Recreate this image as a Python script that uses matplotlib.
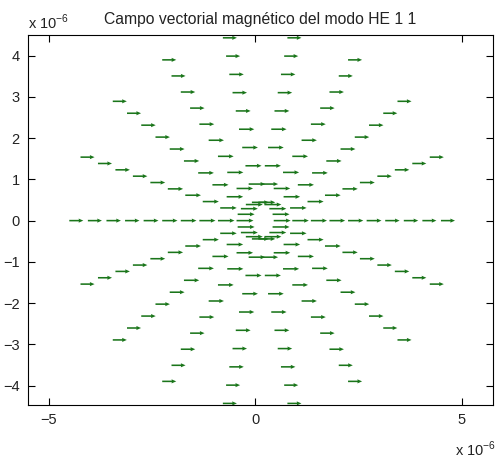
import numpy as np
import matplotlib
matplotlib.use("Agg")
import matplotlib.pyplot as plt

plt.rcParams["font.family"] = ["Liberation Sans", "DejaVu Sans"]
plt.rcParams["mathtext.fontset"] = "custom"
plt.rcParams["mathtext.rm"] = "Liberation Sans"

# Malla polar del campo (radios en micrometros, angulos en grados)
radios = [0.45, 0.90, 1.35, 1.80, 2.25, 2.70, 3.15, 3.60, 4.05, 4.50]
angulos = [0, 20, 40, 60, 80, 100, 120, 140, 160, 180,
           200, 220, 240, 260, 280, 300, 320, 340]
# longitud de la flecha (componente x del campo) para cada radio
magnitud = [0.41, 0.40, 0.39, 0.38, 0.37, 0.36, 0.35, 0.35, 0.34, 0.34]

R, T = np.meshgrid(radios, np.deg2rad(angulos))
X = R * np.cos(T)
Y = R * np.sin(T)
U = np.tile(magnitud, (len(angulos), 1))
V = np.zeros_like(U)

fig = plt.figure(figsize=(4.95, 4.61), dpi=100)
ax = fig.add_axes([28 / 495, 1 - 405 / 461, 465 / 495, 370 / 461])

ax.quiver(X, Y, U, V, angles="xy", scale_units="xy", scale=1,
          color="#1a751a", width=0.0034, headwidth=2.6, headlength=3.0,
          headaxislength=2.8)

ax.set_xlim(-5.5, 5.76)
ax.set_ylim(-4.47, 4.5)
ax.set_xticks([-5, 0, 5])
ax.set_yticks([-4, -3, -2, -1, 0, 1, 2, 3, 4])
ax.tick_params(direction="in", top=True, right=True, length=5, labelsize=10.5,
               pad=6, labelcolor="#222222")
for s in ax.spines.values():
    s.set_linewidth(0.8)

ax.set_title("Campo vectorial magnético del modo HE 1 1", fontsize=11.3, pad=8,
             color="#222222")

fig.text(28 / 495, 1 - 29 / 461, r"x 10$^{-6}$", fontsize=10.5, va="baseline",
         color="#222222")
fig.text(455 / 495, 1 - 456 / 461, r"x 10$^{-6}$", fontsize=10.5, va="baseline",
         color="#222222")

plt.savefig("out.png", dpi=100)
plt.close()
